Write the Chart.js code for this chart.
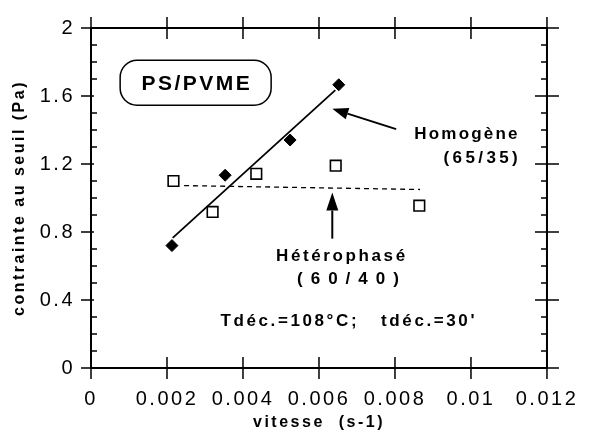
<!DOCTYPE html>
<html>
<head>
<meta charset="utf-8">
<script src="https://cdn.jsdelivr.net/npm/chart.js@4.4.1/dist/chart.umd.min.js"></script>
<style>
  html, body { margin: 0; padding: 0; background: #fff; }
</style>
</head>
<body>
<canvas id="chart" width="591" height="434"></canvas>
<script>
// Yield stress vs shear rate for PS/PVME blends

// Homogeneous blend (65/35) - filled diamonds
const homogeneX = [0.00213, 0.00353, 0.00524, 0.00652];
const homogeneY = [0.72, 1.134, 1.341, 1.666];

// Two-phase blend (60/40) - open squares
const heteroX = [0.00217, 0.00320, 0.00435, 0.00644, 0.00864];
const heteroY = [1.100, 0.918, 1.142, 1.190, 0.955];

// Fitted lines (end points)
const homogeneFitX = [0.00215, 0.00643];
const homogeneFitY = [0.765, 1.635];
const heteroFitX = [0.00245, 0.00866];
const heteroFitY = [1.073, 1.050];

// Axes
const xTicks = [0, 0.002, 0.004, 0.006, 0.008, 0.010, 0.012];
const xTickLabels = ['0', '0.002', '0.004', '0.006', '0.008', '0.01', '0.012'];
const yTicks = [0, 0.4, 0.8, 1.2, 1.6, 2];
const yTickLabels = ['0', '0.4', '0.8', '1.2', '1.6', '2'];
const yMinorCount = 20; // minor ticks every 0.1

const FONT = '"Liberation Sans", Arial, Helvetica, sans-serif';
Chart.defaults.font.family = FONT;
Chart.defaults.color = '#000';

function toPoints(xs, ys) {
    return xs.map((x, i) => ({ x: x, y: ys[i] }));
}

function drawArrow(ctx, x0, y0, x1, y1, len, half) {
    const ang = Math.atan2(y1 - y0, x1 - x0);
    const bx = x1 - Math.cos(ang) * len;
    const by = y1 - Math.sin(ang) * len;
    ctx.beginPath();
    ctx.moveTo(x0, y0);
    ctx.lineTo(bx, by);
    ctx.stroke();
    ctx.beginPath();
    ctx.moveTo(x1, y1);
    ctx.lineTo(bx + Math.sin(ang) * half, by - Math.cos(ang) * half);
    ctx.lineTo(bx - Math.sin(ang) * half, by + Math.cos(ang) * half);
    ctx.closePath();
    ctx.fill();
}

function spacedText(ctx, text, px, py, spacing) {
    ctx.letterSpacing = spacing + 'px';
    ctx.fillText(text, px + spacing / 2, py);
}

// Frame with crossing ticks on all four sides, arrows and labels
const framePlugin = {
    id: 'frame',
    beforeDraw(chart) {
        chart.ctx.letterSpacing = '2.5px';
    },
    afterDatasetsDraw(chart) {
        const { ctx, chartArea: a, scales: { x, y } } = chart;
        ctx.save();
        ctx.strokeStyle = '#000';
        ctx.fillStyle = '#000';

        ctx.lineWidth = 2;
        ctx.strokeRect(a.left, a.top, a.right - a.left, a.bottom - a.top);

        ctx.lineWidth = 1.5;
        ctx.beginPath();
        xTicks.forEach(v => {
            const px = x.getPixelForValue(v);
            ctx.moveTo(px, a.bottom - 11);
            ctx.lineTo(px, a.bottom + 11);
            ctx.moveTo(px, a.top - 11);
            ctx.lineTo(px, a.top + 11);
        });
        yTicks.forEach(v => {
            const py = y.getPixelForValue(v);
            ctx.moveTo(a.left - 10, py);
            ctx.lineTo(a.left + 3, py);
            ctx.moveTo(a.right - 12, py);
            ctx.lineTo(a.right + 12, py);
        });
        for (let i = 1; i < yMinorCount; i++) {
            if (i % 4 === 0) continue;
            const py = y.getPixelForValue(i * 2 / yMinorCount);
            ctx.moveTo(a.left, py);
            ctx.lineTo(a.left + 6, py);
            ctx.moveTo(a.right - 6, py);
            ctx.lineTo(a.right, py);
        }
        ctx.stroke();

        // arrows pointing at the fitted lines
        ctx.lineWidth = 2;
        drawArrow(ctx, x.getPixelForValue(0.00803), y.getPixelForValue(1.405),
            x.getPixelForValue(0.00635), y.getPixelForValue(1.525), 16, 6);
        drawArrow(ctx, x.getPixelForValue(0.00635), y.getPixelForValue(0.761),
            x.getPixelForValue(0.00635), y.getPixelForValue(1.032), 18, 6);

        // sample box
        const bx = x.getPixelForValue(0.002754), by = y.getPixelForValue(1.678);
        const w = 151, h = 45, r = 17;
        ctx.lineWidth = 1.5;
        ctx.beginPath();
        ctx.moveTo(bx - w / 2 + r, by - h / 2);
        ctx.arcTo(bx + w / 2, by - h / 2, bx + w / 2, by + h / 2, r);
        ctx.arcTo(bx + w / 2, by + h / 2, bx - w / 2, by + h / 2, r);
        ctx.arcTo(bx - w / 2, by + h / 2, bx - w / 2, by - h / 2, r);
        ctx.arcTo(bx - w / 2, by - h / 2, bx + w / 2, by - h / 2, r);
        ctx.closePath();
        ctx.stroke();

        ctx.textAlign = 'center';
        ctx.textBaseline = 'middle';
        ctx.font = 'bold 21px ' + FONT;
        spacedText(ctx, 'PS/PVME', bx, by + 1, 2.5);

        ctx.font = 'bold 17px ' + FONT;
        spacedText(ctx, 'Homogène', x.getPixelForValue(0.009866), y.getPixelForValue(1.374), 2.2);
        spacedText(ctx, '(65/35)', x.getPixelForValue(0.010254), y.getPixelForValue(1.232), 3.4);
        spacedText(ctx, 'Hétérophasé', x.getPixelForValue(0.006569), y.getPixelForValue(0.655), 2.6);
        spacedText(ctx, '(60/40)', x.getPixelForValue(0.006763), y.getPixelForValue(0.522), 8);
        spacedText(ctx, 'Tdéc.=108°C;   tdéc.=30\'', x.getPixelForValue(0.00675), y.getPixelForValue(0.272), 2.6);

        ctx.restore();
    }
};

new Chart(document.getElementById('chart'), {
    type: 'scatter',
    data: {
        datasets: [
            {
                label: 'Homogène (65/35)',
                data: toPoints(homogeneX, homogeneY),
                pointStyle: 'rectRot',
                pointRadius: 6,
                backgroundColor: '#000',
                borderColor: '#000',
                borderWidth: 1,
                order: 0
            },
            {
                label: 'Hétérophasé (60/40)',
                data: toPoints(heteroX, heteroY),
                pointStyle: 'rect',
                pointRadius: 7.5,
                backgroundColor: '#fff',
                borderColor: '#000',
                borderWidth: 1.6,
                order: 0
            },
            {
                type: 'line',
                data: toPoints(homogeneFitX, homogeneFitY),
                borderColor: '#000',
                borderWidth: 1.8,
                pointRadius: 0,
                fill: false,
                order: 1
            },
            {
                type: 'line',
                data: toPoints(heteroFitX, heteroFitY),
                borderColor: '#000',
                borderWidth: 1.3,
                borderDash: [5, 4],
                pointRadius: 0,
                fill: false,
                order: 1
            }
        ]
    },
    options: {
        responsive: false,
        animation: false,
        layout: { padding: { left: 0, right: 36, top: 23, bottom: 0 } },
        plugins: {
            legend: { display: false },
            tooltip: { enabled: false }
        },
        scales: {
            x: {
                type: 'linear',
                min: 0,
                max: 0.012,
                afterBuildTicks: scale => { scale.ticks = xTicks.map(v => ({ value: v })); },
                afterFit: scale => { scale.height = 66; },
                grid: { display: false, drawTicks: false },
                border: { display: false },
                ticks: {
                    autoSkip: false,
                    maxRotation: 0,
                    padding: 19,
                    font: { size: 20 },
                    callback: (value, index) => xTickLabels[index]
                },
                title: {
                    display: true,
                    text: 'vitesse  (s-1)',
                    font: { size: 16, weight: 'bold' },
                    padding: { top: 0, bottom: 2 }
                }
            },
            y: {
                type: 'linear',
                min: 0,
                max: 2,
                afterBuildTicks: scale => { scale.ticks = yTicks.map(v => ({ value: v })); },
                afterFit: scale => { scale.width = 91; },
                grid: { display: false, drawTicks: false },
                border: { display: false },
                ticks: {
                    padding: 16,
                    font: { size: 20 },
                    callback: (value, index) => yTickLabels[index]
                },
                title: {
                    display: true,
                    text: 'contrainte au seuil (Pa)',
                    font: { size: 16, weight: 'bold' },
                    padding: { top: 10, bottom: 0 }
                }
            }
        }
    },
    plugins: [framePlugin]
});
</script>
</body>
</html>
